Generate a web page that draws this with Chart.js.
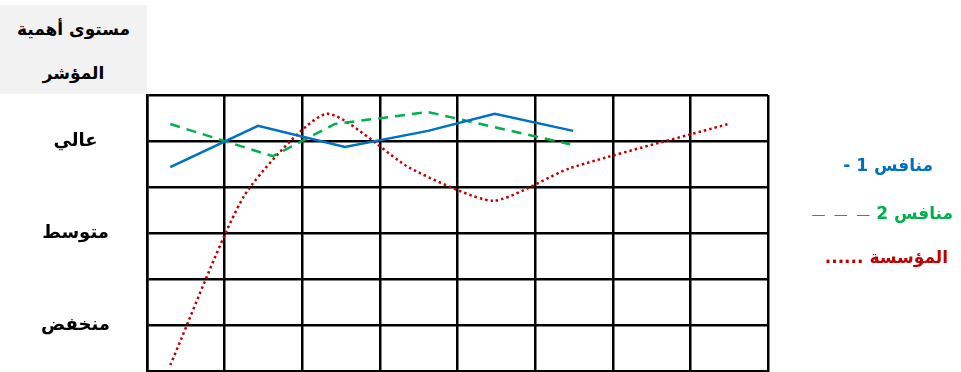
<!DOCTYPE html>
<html lang="ar">
<head>
<meta charset="UTF-8">
<title>مستوى أهمية المؤشر</title>
<style>
  body { margin: 0; background: #fff; }
  #wrap { position: relative; width: 961px; height: 372px; }
  #title {
    position: absolute; left: 0; top: 5px; width: 147px; height: 89px;
    background: #f2f2f2; direction: rtl; text-align: center;
    font: bold 17px "DejaVu Sans", sans-serif; line-height: 44px; color: #000;
    padding-top: 2px; box-sizing: border-box;
  }
  .leg { position: absolute; direction: rtl; font: bold 17px "DejaVu Sans", sans-serif; white-space: nowrap; }
</style>
</head>
<body>
<div id="wrap">
  <canvas id="Chart" width="961" height="372"></canvas>
  <div id="title">مستوى أهمية<br>المؤشر</div>
  <div class="leg" style="top:155px;right:28px;color:#0070C0">منافس 1 <span style="font-weight:900">-</span></div>
  <div class="leg" style="top:203px;right:8px;color:#00B050">منافس 2 <span style="font-weight:normal;font-size:14px;word-spacing:4px">— — —</span></div>
  <div class="leg" style="top:247px;right:13px;color:#C00000">المؤسسة <span style="letter-spacing:3px">......</span></div>
</div>

<script src="https://cdn.jsdelivr.net/npm/chart.js"></script>
<script>
  // مستويات المحور الرأسي
  const tickValues = [1, 3, 5];
  const tickLabels = ['منخفض', 'متوسط', 'عالي'];

  // منافس 1
  const rival1X = [0.30, 1.43, 2.55, 3.62, 4.48, 5.49];
  const rival1Y = [4.43, 5.33, 4.87, 5.22, 5.59, 5.22];
  // منافس 2
  const rival2X = [0.30, 1.62, 2.42, 3.62, 5.45];
  const rival2Y = [5.37, 4.67, 5.37, 5.63, 4.93];
  // المؤسسة
  const orgX = [0.30, 1.26, 2.31, 3.39, 4.46, 5.45, 7.49];
  const orgY = [0.13, 3.83, 5.59, 4.41, 3.70, 4.41, 5.37];

  function toPoints(xs, ys) {
    return xs.map((x, i) => ({ x: x, y: ys[i] }));
  }

  var ctx = document.getElementById('Chart').getContext('2d');
  new Chart(ctx, {
    type: 'line',
    data: {
      datasets: [{
        label: 'منافس 1',
        data: toPoints(rival1X, rival1Y),
        borderColor: '#0070C0',
        borderWidth: 2.5,
        pointRadius: 0,
        tension: 0
      }, {
        label: 'منافس 2',
        data: toPoints(rival2X, rival2Y),
        borderColor: '#00B050',
        borderWidth: 2.5,
        borderDash: [10, 7],
        pointRadius: 0,
        tension: 0
      }, {
        label: 'المؤسسة',
        data: toPoints(orgX, orgY),
        borderColor: '#C00000',
        borderWidth: 2.5,
        borderDash: [2.5, 3],
        pointRadius: 0,
        tension: 0.2
      }]
    },
    options: {
      responsive: false,
      animation: false,
      layout: { padding: { left: 0, right: 193, top: 95, bottom: 1 } },
      plugins: { legend: { display: false }, tooltip: { enabled: false } },
      scales: {
        x: {
          type: 'linear', min: 0, max: 8,
          ticks: { display: false, stepSize: 1 },
          grid: { color: '#000', lineWidth: 2.5, drawTicks: false },
          border: { color: '#000', width: 2.5 },
          afterFit: s => { s.height = 0; s.paddingLeft = 0; s.paddingRight = 0; }
        },
        y: {
          type: 'linear', min: 0, max: 6,
          ticks: {
            stepSize: 1,
            padding: 37,
            crossAlign: 'center',
            color: '#000',
            font: { family: 'DejaVu Sans', size: 18, weight: 'bold' },
            callback: v => {
              const i = tickValues.indexOf(v);
              return i >= 0 ? tickLabels[i] : '';
            }
          },
          grid: { color: '#000', lineWidth: 2.5, drawTicks: false },
          border: { color: '#000', width: 2.5 },
          afterFit: s => { s.width = 147; s.paddingTop = 0; s.paddingBottom = 0; }
        }
      }
    }
  });
</script>
</body>
</html>
